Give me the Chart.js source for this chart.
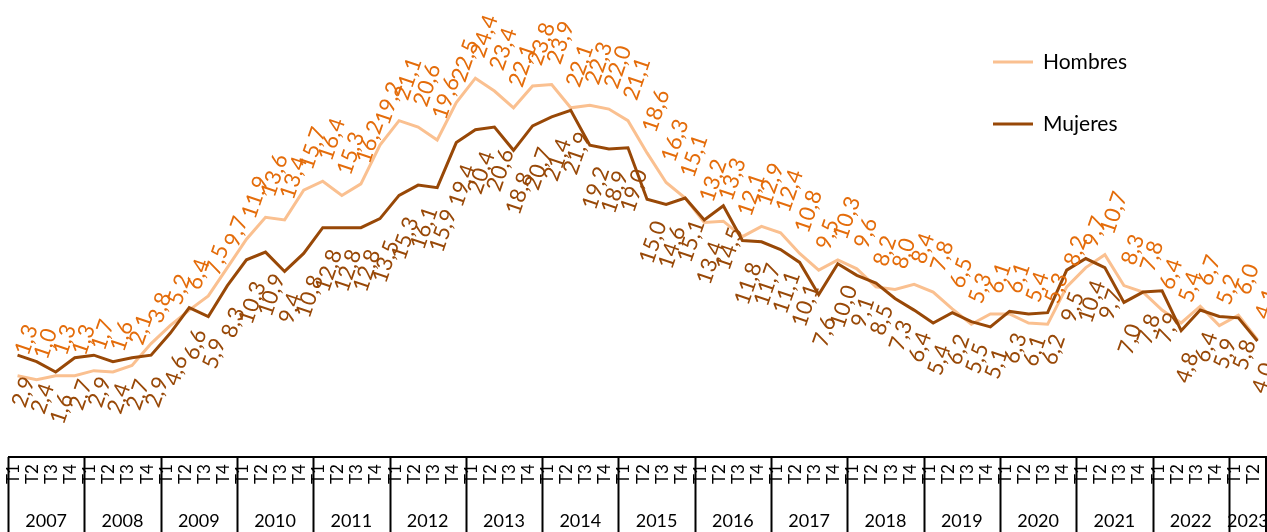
<!DOCTYPE html>
<html>
<head>
<meta charset="utf-8">
<script src="https://cdn.jsdelivr.net/npm/chart.js@4.4.1/dist/chart.umd.min.js"></script>
<style>
  html, body { margin: 0; padding: 0; background: #fff; }
  #wrap { width: 1267px; height: 532px; }
</style>
</head>
<body>
<div id="wrap"><canvas id="chart" width="1267" height="532"></canvas></div>
<script>
var years = ['2007', '2008', '2009', '2010', '2011', '2012', '2013', '2014', '2015',
             '2016', '2017', '2018', '2019', '2020', '2021', '2022', '2023'];
var quarters = ['T1', 'T2', 'T3', 'T4'];

var hombres = [1.3, 1.0, 1.3, 1.3, 1.7, 1.6, 2.1, 3.8, 5.2, 6.4, 7.5, 9.7,
               11.9, 13.6, 13.4, 15.7, 16.4, 15.3, 16.2, 19.2, 21.1, 20.6, 19.6, 22.5,
               24.4, 23.4, 22.1, 23.8, 23.9, 22.1, 22.3, 22.0, 21.1, 18.6, 16.3, 15.1,
               13.2, 13.3, 12.1, 12.9, 12.4, 10.8, 9.5, 10.3, 9.6, 8.2, 8.0, 8.4,
               7.8, 6.5, 5.3, 6.1, 6.1, 5.4, 5.3, 8.2, 9.7, 10.7, 8.3, 7.8,
               6.4, 5.4, 6.7, 5.2, 6.0, 4.1];
var mujeres = [2.9, 2.4, 1.6, 2.7, 2.9, 2.4, 2.7, 2.9, 4.6, 6.6, 5.9, 8.3,
               10.3, 10.9, 9.4, 10.8, 12.8, 12.8, 12.8, 13.5, 15.3, 16.1, 15.9, 19.4,
               20.4, 20.6, 18.8, 20.7, 21.4, 21.9, 19.2, 18.9, 19.0, 15.0, 14.6, 15.1,
               13.4, 14.5, 11.8, 11.7, 11.1, 10.1, 7.6, 10.0, 9.1, 8.5, 7.3, 6.4,
               5.4, 6.2, 5.5, 5.1, 6.3, 6.1, 6.2, 9.5, 10.4, 9.7, 7.0, 7.8,
               7.9, 4.8, 6.4, 5.9, 5.8, 4.0];

// one category per quarter, year kept alongside for the table below the plot
var periods = [];
var periodYear = [];
years.forEach(function (y) {
    quarters.forEach(function (q) {
        if (periods.length < hombres.length) {
            periods.push(q);
            periodYear.push(y);
        }
    });
});

var FONT = 'Lato, "Open Sans", sans-serif';

function fmt(v) {
    return v.toFixed(1).replace('.', ',');
}

var rotatedLabels = {
    id: 'rotatedLabels',
    afterDatasetsDraw: function (chart) {
        var ctx = chart.ctx;
        var ang = 71 * Math.PI / 180;
        var size = 22;
        chart.data.datasets.forEach(function (ds, di) {
            var meta = chart.getDatasetMeta(di);
            var above = ds.labelPos === 'above';
            ctx.save();
            ctx.font = size + 'px ' + FONT;
            ctx.fillStyle = ds.labelColor;
            ctx.textAlign = 'center';
            ctx.textBaseline = 'middle';
            meta.data.forEach(function (pt, i) {
                var txt = fmt(ds.data[i]);
                var w = ctx.measureText(txt).width;
                var h = size * 0.7;
                var H = w * Math.sin(ang) + h * Math.cos(ang);
                var cx = above ? pt.x + 9 : pt.x + 6;
                var cy = above ? pt.y - 19 - H / 2 : pt.y + 20 + H / 2;
                ctx.save();
                ctx.translate(cx, cy);
                ctx.rotate(-ang);
                ctx.fillText(txt, 0, 0);
                ctx.restore();
            });
            ctx.restore();
        });
    }
};

var sideLegend = {
    id: 'sideLegend',
    afterDraw: function (chart) {
        var ctx = chart.ctx;
        ctx.save();
        chart.data.datasets.forEach(function (ds, di) {
            var y = 62 + di * 62;
            ctx.strokeStyle = ds.borderColor;
            ctx.lineWidth = 3;
            ctx.beginPath();
            ctx.moveTo(993, y);
            ctx.lineTo(1033, y);
            ctx.stroke();
            ctx.fillStyle = '#000';
            ctx.font = '21px ' + FONT;
            ctx.textAlign = 'left';
            ctx.textBaseline = 'middle';
            ctx.fillText(ds.label, 1043, y);
        });
        ctx.restore();
    }
};

var periodTable = {
    id: 'periodTable',
    afterDraw: function (chart) {
        var ctx = chart.ctx;
        var xs = chart.scales.x;
        var area = chart.chartArea;
        var top = 457;
        var bottom = chart.height;
        var step = xs.getPixelForValue(1) - xs.getPixelForValue(0);
        ctx.save();
        ctx.strokeStyle = '#000';
        ctx.lineWidth = 2;
        ctx.beginPath();
        ctx.moveTo(area.left, top);
        ctx.lineTo(area.right, top);
        ctx.stroke();

        ctx.fillStyle = '#000';
        // quarter labels
        ctx.font = '17px ' + FONT;
        ctx.textAlign = 'center';
        ctx.textBaseline = 'middle';
        periods.forEach(function (q, i) {
            var x = xs.getPixelForValue(i) - 4;
            ctx.save();
            ctx.translate(x, 474);
            ctx.rotate(-Math.PI / 2);
            ctx.fillText(q, 0, 0);
            ctx.restore();
        });

        // year cells
        ctx.font = '18px ' + FONT;
        years.forEach(function (y) {
            var first = periodYear.indexOf(y);
            var last = periodYear.lastIndexOf(y);
            var x0 = xs.getPixelForValue(first) - step / 2;
            var x1 = Math.min(xs.getPixelForValue(last) + step / 2, area.right);
            ctx.beginPath();
            ctx.moveTo(Math.round(x0) + 0.5, top);
            ctx.lineTo(Math.round(x0) + 0.5, bottom);
            ctx.stroke();
            ctx.fillText(y, (x0 + x1) / 2, 521);
        });
        ctx.beginPath();
        ctx.moveTo(area.right - 1, top);
        ctx.lineTo(area.right - 1, bottom);
        ctx.stroke();
        ctx.restore();
    }
};

new Chart(document.getElementById('chart'), {
    type: 'line',
    data: {
        labels: periods,
        datasets: [
            {
                label: 'Hombres',
                data: hombres,
                borderColor: '#FAC090',
                labelColor: '#E46C0A',
                labelPos: 'above',
                borderWidth: 3,
                pointRadius: 0,
                tension: 0,
                order: 1
            },
            {
                label: 'Mujeres',
                data: mujeres,
                borderColor: '#984807',
                labelColor: '#984807',
                labelPos: 'below',
                borderWidth: 3,
                pointRadius: 0,
                tension: 0,
                order: 0
            }
        ]
    },
    options: {
        responsive: false,
        animation: false,
        devicePixelRatio: 1,
        layout: { padding: { left: 8, right: 0, top: 6, bottom: 75 } },
        scales: {
            x: { display: false, offset: true },
            y: { display: false, min: -5, max: 30 }
        },
        plugins: {
            legend: { display: false },
            tooltip: { enabled: false }
        }
    },
    plugins: [rotatedLabels, sideLegend, periodTable]
});
</script>
</body>
</html>
